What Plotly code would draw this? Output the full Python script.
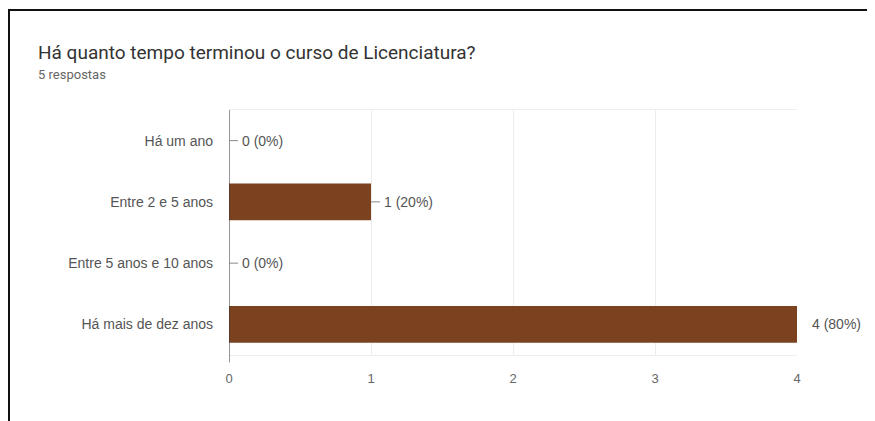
import plotly.graph_objects as go

categories = ["Há um ano", "Entre 2 e 5 anos", "Entre 5 anos e 10 anos", "Há mais de dez anos"]
counts = [0, 1, 0, 4]
percents = [0, 20, 0, 80]
x_ticks = [0, 1, 2, 3, 4]

# page offset (browser body margin)
OFF = 8
W, H = 875 - OFF, 421 - OFF
L, R, T, B = 229 - OFF, 797 - OFF, 110 - OFF, 355 - OFF

bar_color = "#7b4220"
label_font = dict(family="Liberation Sans, Arial", size=14, color="#555")

fig = go.Figure()
fig.add_trace(go.Bar(
    y=categories, x=counts, orientation="h",
    marker=dict(color=bar_color, line=dict(width=0)),
    width=0.6, hoverinfo="skip",
))

for c, v, p in zip(categories, counts, percents):
    label = f"{v} ({p}%)"
    if v == max(counts):
        fig.add_annotation(x=v, y=c, text=label, showarrow=False,
                           xanchor="left", xshift=13, font=label_font)
    else:
        fig.add_annotation(x=v, y=c, ax=11, ay=0, text=label, showarrow=True,
                           arrowhead=0, arrowwidth=1, arrowcolor="#888",
                           xanchor="left", standoff=0, startstandoff=2,
                           font=label_font)

def px_x(p):
    return (p - OFF - L) / (R - L)

def px_y(p):
    return (B - (p - OFF)) / (B - T)

# frame border of the screenshot
fig.add_shape(type="line", xref="paper", yref="paper",
              x0=px_x(8), x1=px_x(875), y0=px_y(10), y1=px_y(10),
              line=dict(color="#111", width=2))
fig.add_shape(type="line", xref="paper", yref="paper",
              x0=px_x(9), x1=px_x(9), y0=px_y(10), y1=px_y(421),
              line=dict(color="#111", width=2))

fig.add_annotation(xref="paper", yref="paper", x=px_x(36), y=px_y(52),
                   text="Há quanto tempo terminou o curso de Licenciatura?",
                   showarrow=False, xanchor="left", yanchor="middle",
                   font=dict(family="Roboto", size=19, color="#333"))
fig.add_annotation(xref="paper", yref="paper", x=px_x(36), y=px_y(74),
                   text="5 respostas", showarrow=False, xanchor="left", yanchor="middle",
                   font=dict(family="Roboto", size=13, color="#666"))

fig.update_layout(
    width=W, height=H,
    margin=dict(l=L, r=W - R, t=T, b=H - B, autoexpand=False),
    paper_bgcolor="white", plot_bgcolor="white",
    showlegend=False, bargap=0.4,
    xaxis=dict(range=[0, 4], tickvals=x_ticks, showgrid=True, gridcolor="#ececec",
               zeroline=False, showline=True, linecolor="#eeeeee", mirror=True,
               tickfont=dict(family="Liberation Sans, Arial", size=13, color="#666"),
               ticks="", ticklabelstandoff=11),
    yaxis=dict(categoryorder="array", categoryarray=categories[::-1],
               autorange=False, range=[-0.5, 3.5],
               showgrid=False, zeroline=False, showline=False,
               ticks="", ticklabelstandoff=15,
               tickfont=label_font),
)
fig.add_shape(type="line", xref="x", yref="paper", x0=0, x1=0, y0=-0.03, y1=1,
              line=dict(color="#333", width=1))

fig.write_html("out.html")
